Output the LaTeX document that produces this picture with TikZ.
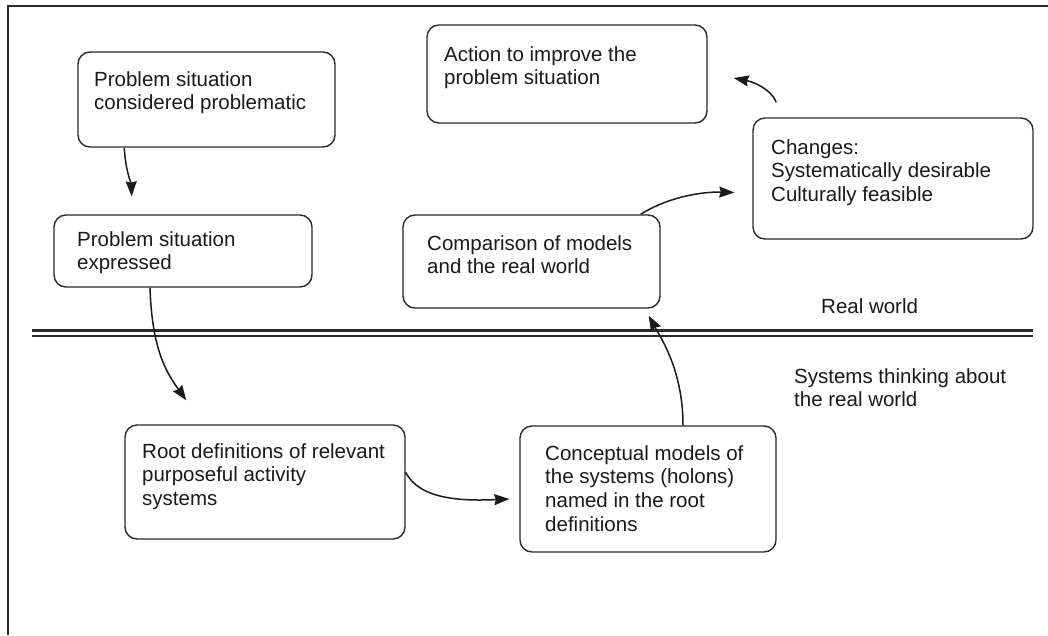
\documentclass[tikz,border=0pt]{standalone}
\usepackage{fontspec}
\setmainfont{Liberation Sans}
\usetikzlibrary{arrows.meta,calc}
\definecolor{ink}{HTML}{1A1A1A}
\definecolor{edge}{HTML}{2B2B2B}
\begin{document}
\begin{tikzpicture}[x=1pt,y=-1pt,
  box/.style={draw=edge, line width=1.4pt, rounded corners=12pt, inner sep=0pt},
  txt/.style={anchor=base west, inner sep=0pt, text=ink,
              font=\fontsize{20.5}{23.7}\selectfont},
  arr/.style={draw=ink, line width=1.5pt,
              -{Stealth[length=15pt,width=11pt,inset=1.5pt]}},
  rule/.style={draw=edge}]
\useasboundingbox (0,0) rectangle (1048,635);
\fill[white] (0,0) rectangle (1048,635);

% outer frame (top and left edges only)
\draw[rule, line width=1.5pt] (8,635) -- (8,6) -- (1048,6);

% double rule separating the real world from systems thinking
\draw[rule, line width=3pt]   (32,330.5) -- (1033,330.5);
\draw[rule, line width=1.5pt] (32,335.8) -- (1033,335.8);

% stage boxes
\node[box, minimum width=257pt, minimum height=95pt]  (b1) at (206.5,99.5) {};
\node[box, minimum width=258pt, minimum height=72pt]  (b2) at (183,251) {};
\node[box, minimum width=280pt, minimum height=98pt]  (b3) at (567,74) {};
\node[box, minimum width=280pt, minimum height=121pt] (b4) at (893,178.5) {};
\node[box, minimum width=257pt, minimum height=93pt]  (b5) at (531.5,261.5) {};
\node[box, minimum width=280pt, minimum height=114pt] (b6) at (265,482) {};
\node[box, minimum width=256pt, minimum height=126pt] (b7) at (648,489) {};

% box texts
\node[txt] (t1) at (94,86)  {\parbox[t]{300pt}{\raggedright Problem situation\\considered problematic}};
\node[txt] (t2) at (77,246) {\parbox[t]{300pt}{\raggedright Problem situation\\expressed}};
\node[txt] (t3) at (444,61) {\parbox[t]{300pt}{\raggedright Action to improve the\\problem situation}};
\node[txt] (t4) at (771,154) {\parbox[t]{300pt}{\raggedright Changes:\\Systematically desirable\\Culturally feasible}};
\node[txt] (t5) at (427,250) {\parbox[t]{300pt}{\raggedright Comparison of models\\and the real world}};
\node[txt] (t6) at (142,458) {\parbox[t]{300pt}{\raggedright Root definitions of relevant\\purposeful activity\\systems}};
\node[txt] (t7) at (545,460) {\parbox[t]{300pt}{\raggedright Conceptual models of\\the systems (holons)\\named in the root\\definitions}};

% region labels
\node[txt] (rw) at (821,313) {Real world};
\node[txt] (st) at (794,383) {\parbox[t]{300pt}{\raggedright Systems thinking about\\the real world}};

% flow between stages
\draw[arr, shorten >=18pt] ([xshift=47pt]b1.south west)
  .. controls +(1,22) and +(-1,-30) .. ([xshift=79pt]b2.north west);
\draw[arr] ([xshift=-33pt]b2.south)
  .. controls +(2,62) and +(-20,-28) .. ([xshift=62pt,yshift=24pt]b6.north west);
\draw[arr] ([yshift=-48pt]b6.north east)
  .. controls +(14,28) and +(-45,2) .. ([xshift=-10pt,yshift=-10pt]b7.west);
\draw[arr] ([xshift=35pt]b7.north)
  .. controls +(0,-55) and +(12,22) .. ([xshift=-12pt,yshift=-7pt]b5.south east);
\draw[arr] ([xshift=-20pt]b5.north east)
  .. controls +(25,-16) and +(-35,-1) .. ([xshift=-18pt,yshift=-14pt]b4.west);
\draw[arr] ([xshift=24pt,yshift=15pt]b4.north west)
  .. controls +(-5,-13) and +(20,4) .. ([xshift=26pt,yshift=-4pt]b3.east);
\end{tikzpicture}
\end{document}
